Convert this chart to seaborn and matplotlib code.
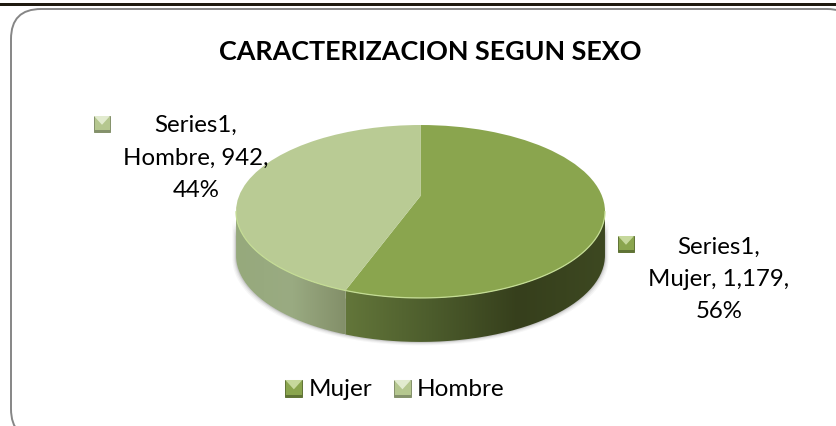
import numpy as np
import matplotlib
matplotlib.use('Agg')
import matplotlib.pyplot as plt
import matplotlib.transforms as mtransforms
from matplotlib.patches import FancyBboxPatch, Patch, PathPatch, Polygon
from matplotlib.legend_handler import HandlerBase
from matplotlib.path import Path
import seaborn as sns

categories = ['Mujer', 'Hombre']
counts = [1179, 942]
percents = [56, 44]
series_name = 'Series1'
title = 'CARACTERIZACION SEGUN SEXO'

top_colors = ['#8aa54e', '#b9cb94']
side_colors = [['#63763a', '#4c5c2c', '#363f1c', '#3d4821'],
               ['#96a97c', '#9aab82', '#838f69']]
icon_colors = [('#8aa54e', '#c6d89c', '#5f7335'), ('#b5c78f', '#e2ebcf', '#84916b')]

# pie perspective, in pixels
cx, cy = 420.5, 197
rx, ry = 181.5, 83.7
tilt = 0.179
depth = 44

sns.set_theme(style='white')
plt.rcParams['font.family'] = ['Lato', 'DejaVu Sans']

fig = plt.figure(figsize=(8.37, 4.27), dpi=100)
ax = fig.add_axes([0, 0, 1, 1])


def project(x, y):
    w = 1 + tilt * y
    return cx + rx * x / w, cy - ry * y / w


class Tilted(mtransforms.Transform):
    input_dims = 2
    output_dims = 2

    def transform_non_affine(self, values):
        values = np.asarray(values)
        px, py = project(values[:, 0], values[:, 1])
        return np.column_stack([px, py])


def rim(a0, a1):
    # a is clockwise from 12 o'clock
    a = np.radians(np.linspace(a0, a1, 80))
    px, py = project(np.sin(a), np.cos(a))
    return np.column_stack([px, py])


def draw_icon(x, y, s, colors, tr):
    base, light, dark = colors
    sq = [(x, y), (x + s, y), (x + s, y + s), (x, y + s)]
    tri = [(x, y), (x + s, y), (x + s / 2, y + s * 0.55)]
    low = [(x, y + s * 0.86), (x + s, y + s * 0.86), (x + s, y + s), (x, y + s)]
    return [Polygon(sq, fc=base, ec=dark, lw=0.7, transform=tr),
            Polygon(tri, fc=light, ec='none', transform=tr),
            Polygon(low, fc=dark, ec='none', transform=tr)]


class IconHandler(HandlerBase):
    def create_artists(self, legend, orig_handle, xdescent, ydescent, width, height, fontsize, trans):
        s = width
        # legend handle space has y upwards, so flip the icon through the transform
        flip = mtransforms.Affine2D().scale(1, -1).translate(0, s - 1.8) + trans
        return draw_icon(-xdescent, 0, s, orig_handle.icon, flip)


wedges, _ = ax.pie(counts, colors=top_colors, startangle=90, counterclock=False,
                   wedgeprops={'linewidth': 0, 'zorder': 6})
for w in wedges:
    w.set_transform(Tilted() + ax.transData)

ax.set_aspect('auto')
ax.axis('off')

# side of the disc, only the part facing the viewer
seam = 360 * counts[0] / sum(counts)
right_end = np.degrees(np.arccos(-tilt))
left_end = 360 - right_end
arcs = [(right_end, seam), (seam, left_end)]

for i, (a0, a1) in enumerate(arcs):
    edge = rim(a0, a1)
    poly = np.vstack([edge, (edge + [0, depth])[::-1]])
    grad = sns.blend_palette(side_colors[i], n_colors=128)
    x0, x1 = poly[:, 0].min(), poly[:, 0].max()
    img = np.array(grad)[None, :, :]
    im = ax.imshow(img, extent=[x0, x1, poly[:, 1].max(), poly[:, 1].min()],
                   aspect='auto', zorder=4, interpolation='bilinear')
    clip = PathPatch(Path(poly), transform=ax.transData, fc='none', ec='none')
    ax.add_patch(clip)
    im.set_clip_path(clip)

    # soft shadow
    for grow, alpha in [(3.5, 0.05), (2.5, 0.07), (1.5, 0.1), (0.7, 0.14)]:
        shadow = np.vstack([edge + [0, 8], (edge + [0, depth + grow])[::-1]])
        shadow[:, 0] = cx + (shadow[:, 0] - cx) * (1 + grow / rx)
        ax.add_patch(Polygon(shadow, fc='#555555', ec='none', alpha=alpha, zorder=3))

    # thin light rim on the front edge
    ax.plot(edge[:, 0], edge[:, 1], color='#c4dc94', lw=0.9, zorder=7)

ax.set_xlim(0, 837)
ax.set_ylim(427, 0)

# top bar and chart frame
ax.axhspan(4, 7, color='#1f1a10', lw=0, zorder=1)
frame = FancyBboxPatch((41, 40), 786, 370, boxstyle='round,pad=30,rounding_size=30',
                       fc='white', ec='#868686', lw=1.4, zorder=0, clip_on=True)
ax.add_patch(frame)

ax.text(430, 52, title, fontsize=19.4, fontweight='bold', color='black',
        ha='center', va='center', zorder=8)

# data labels
label_pos = [(719, 279.5), (196, 158)]
icon_pos = [(618, 237), (94, 117)]
for i, cat in enumerate(categories):
    txt = f'{series_name},\n{cat}, {counts[i]:,},\n{percents[i]}%'
    ax.text(label_pos[i][0], label_pos[i][1], txt, fontsize=17.3, color='black',
            ha='center', va='center', linespacing=1.66, zorder=8)
    for p in draw_icon(icon_pos[i][0], icon_pos[i][1], 16, icon_colors[i], ax.transData):
        p.set_zorder(8)
        ax.add_patch(p)

# legend
handles = []
for i, cat in enumerate(categories):
    h = Patch(label=cat)
    h.icon = icon_colors[i]
    handles.append(h)
ax.legend(handles=handles, handler_map={Patch: IconHandler()}, ncol=2, frameon=False,
          loc='center', bbox_to_anchor=(395, 389), bbox_transform=ax.transData,
          fontsize=17.5, handlelength=0.7, handletextpad=0.25, columnspacing=0.9,
          labelcolor='black')

fig.savefig('out.png', dpi=100)
